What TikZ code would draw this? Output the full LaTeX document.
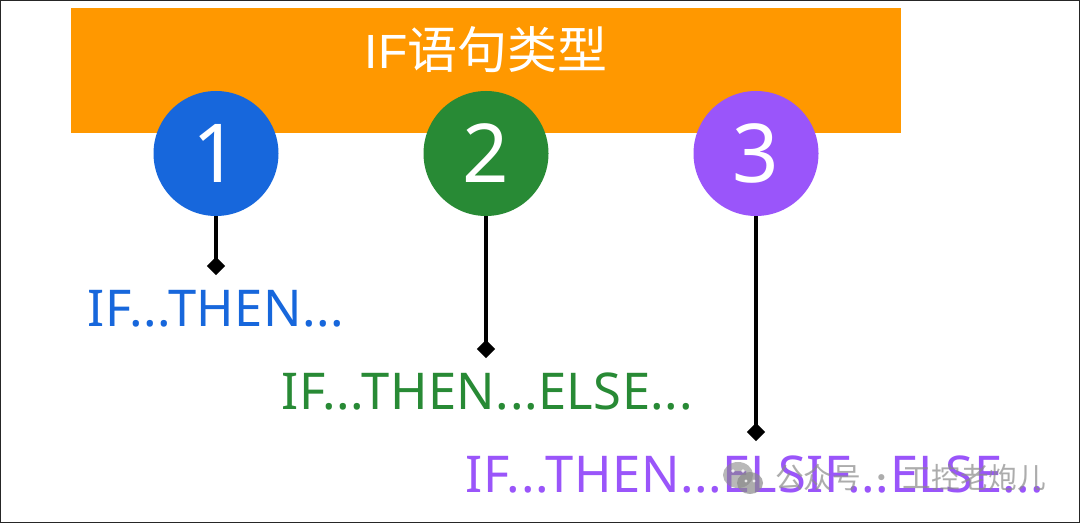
\documentclass[tikz,border=0pt]{standalone}
\usepackage{fontspec}
\setmainfont{Liberation Sans}
\newfontfamily\cjk{Noto Sans CJK SC}
\newfontfamily\lblfont[LetterSpace=1.0]{Noto Sans}
\newfontfamily\numfont{Noto Sans}
\usetikzlibrary{shapes.geometric}
\definecolor{bandc}{HTML}{FF9800}
\definecolor{bluec}{HTML}{1767DC}
\definecolor{greenc}{HTML}{288A35}
\definecolor{purplec}{HTML}{9A55FA}
\definecolor{markc}{HTML}{8A8A8A}
\tikzset{
  px/.style={x=0.75pt,y=-0.75pt},
  badge/.style={circle,minimum size=93.75pt,inner sep=0pt,text=white,font=\numfont\fontsize{61}{61}\selectfont},
  stem/.style={line width=2.4pt,black},
  tipd/.style={diamond,fill=black,minimum size=14pt,inner sep=0pt},
  lbl/.style={font=\lblfont\fontsize{38}{38}\selectfont,inner sep=0pt}
}
\begin{document}
\begin{tikzpicture}[px]
\useasboundingbox (0,0) rectangle (1080,523);
\fill[white] (0,0) rectangle (1080,523);
\node[fill=bandc,minimum width=622.5pt,minimum height=93.5pt,inner sep=0pt] (band) at (486,70.5) {};
\node[text=white,font=\fontsize{36}{36}\selectfont,inner sep=0pt] (title) at (486,50) {IF{\cjk\fontsize{37.5}{37.5}\selectfont 语句类型}};
\node[badge,fill=bluec] (c1) at (216,153.5) {1};
\node[badge,fill=greenc] (c2) at (486,153.5) {2};
\node[badge,fill=purplec] (c3) at (756,153.5) {3};
\node[tipd] (d1) at (216,266) {};
\node[tipd] (d2) at (486,349) {};
\node[tipd] (d3) at (756,432) {};
\draw[stem] (c1.south) -- (d1.center);
\draw[stem] (c2.south) -- (d2.center);
\draw[stem] (c3.south) -- (d3.center);
\node[lbl,text=bluec] (t1) at (216,308.5) {IF...THEN...};
\node[lbl,text=greenc] (t2) at (487,391.5) {IF...THEN...ELSE...};
\node[lbl,text=purplec] (t3) at (755,474.5) {IF...THEN...ELSIF...ELSE...};
% watermark
\fill[markc,opacity=.6] (738,475) ellipse (15 and 13);
\fill[markc,opacity=.7] (750,483) ellipse (13 and 11);
\fill[white,opacity=.8] (733,471) circle (1.8) (743,471) circle (1.8) (746,481) circle (1.6) (754,481) circle (1.6);
\node[text=markc,opacity=.7,font=\fontsize{21.5}{21.5}\selectfont\cjk,inner sep=0pt,anchor=west] (wm) at (775,478) {公众号 · 工控老炮儿};
\draw[black!85,line width=1.5pt] (0,0) rectangle (1080,523);
\end{tikzpicture}
\end{document}
